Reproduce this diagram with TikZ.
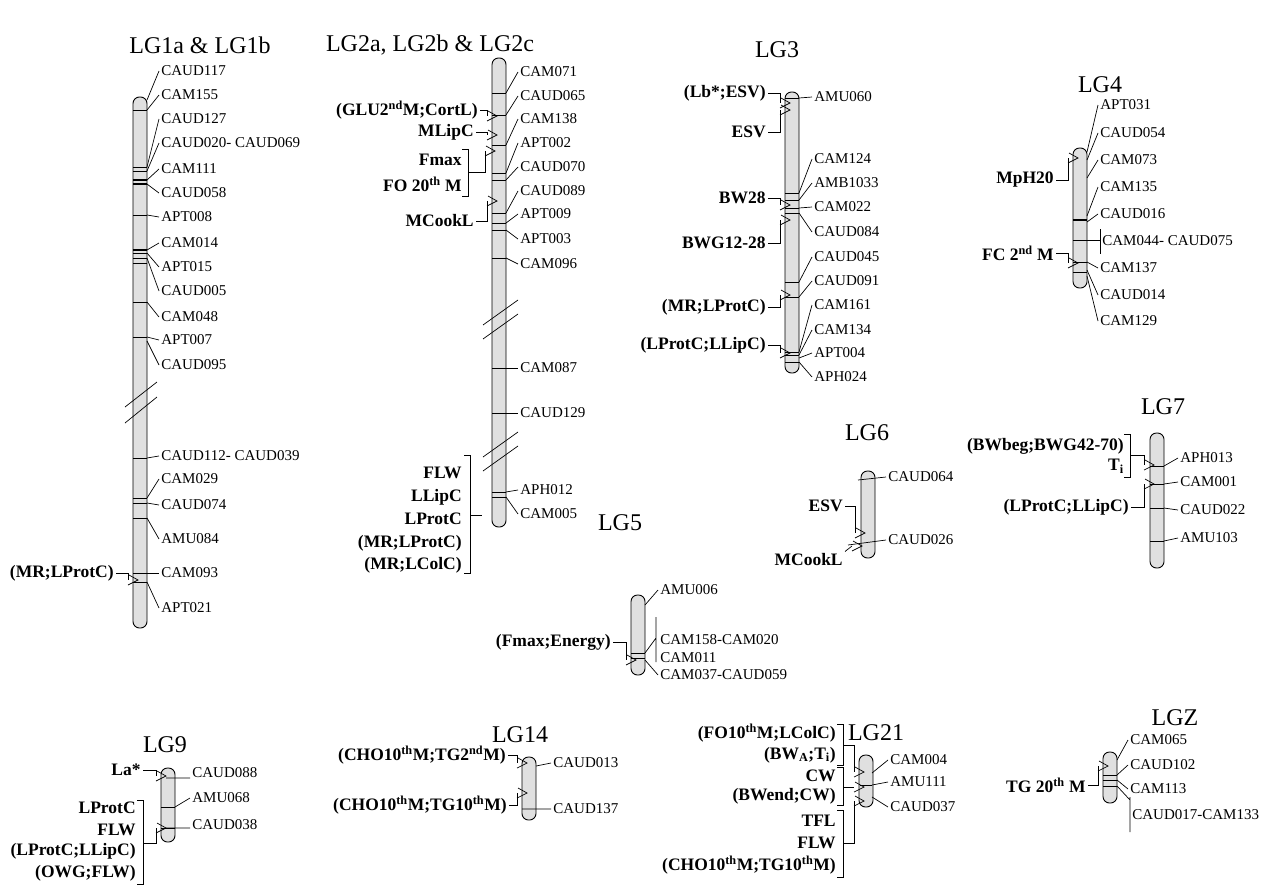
\documentclass[tikz,border=0pt]{standalone}
\usepackage{fontspec}
\setmainfont{Liberation Serif}
\definecolor{chrgray}{RGB}{224,224,224}
\newcommand{\chrom}[3]{\draw[chr](#1-7,#2)rectangle(#1+7,#3);}
\newcommand{\qarrow}[1]{\draw(#1)++(1,-5)--++(9,5)--++(-10,5);}
\newcommand{\qbrack}[3]{\draw(#1-6,#2)--(#1,#2)--(#1,#3)--(#1-6,#3);}
\begin{document}
\begin{tikzpicture}[x=1pt,y=-1pt,line width=.7pt,
	chr/.style={fill=chrgray,rounded corners=6.5pt,line width=.9pt},
	mk/.style={anchor=west,inner sep=2pt,font=\fontsize{15}{17}\selectfont},
	qt/.style={anchor=east,inner sep=2pt,font=\fontsize{17.5}{19}\selectfont\bfseries},
	ttl/.style={font=\fontsize{24}{28}\selectfont}]
	\useasboundingbox(0,0)rectangle(1266,884);
	% LG1
	\node[ttl](t1)at(200,45){LG1a \& LG1b};
	\chrom{140}{97}{628}
	\foreach \b in {110,167,171,215,253,258,263,302,337,458,498,503,518,573,582} \draw(133,\b)--(147,\b);
	\foreach \b in {180,184,250} \draw[line width=1.5pt](133,\b)--(147,\b);
	\foreach \b/\l/\t [count=\i] in {100/71/CAUD117,110/95/CAM155,167/119/CAUD127,171/143/CAUD020- CAUD069,
		180/169/CAM111,184/193/CAUD058,215/217/APT008,250/243/CAM014,253/267/APT015,258/291/CAUD005,
		302/317/CAM048,337/340/APT007,341/365/CAUD095,458/456/CAUD112- CAUD039,498/479/CAM029,
		503/505/CAUD074,518/539/AMU084,573/573/CAM093,582/608/APT021}
		{\node[mk](lga\i)at(159,\l){\t}; \draw(147,\b)--(lga\i.west);}
	\draw(125,407)--(157,382) (125,423)--(157,397);
	\node[qt](q1)at(116,573){(MR;LProtC)};
	\coordinate(a1)at(128,580);
	\draw(q1.east)-|(a1); \qarrow{a1}
	% LG2
	\node[ttl](t2)at(430,45){LG2a, LG2b \& LG2c};
	\chrom{499}{58}{527}
	\foreach \b in {93,115,145,173,180,213,223,230,258,368,413,492,497} \draw(492,\b)--(506,\b);
	\foreach \b/\l/\t [count=\i] in {93/72/CAM071,115/96/CAUD065,145/119/CAM138,173/143/APT002,
		180/167/CAUD070,213/191/CAUD089,223/214/APT009,230/239/APT003,258/264/CAM096,
		368/368/CAM087,413/413/CAUD129,492/490/APH012,497/514/CAM005}
		{\node[mk](lgb\i)at(518,\l){\t}; \draw(506,\b)--(lgb\i.west);}
	\draw(483,325)--(518,300) (483,339)--(518,314) (483,457)--(518,432) (483,471)--(518,446);
	\node[qt](q2a)at(480,110){(GLU2\textsuperscript{nd}M;CortL)};
	\node[qt](q2b)at(476,132){MLipC};
	\node[qt](q2c)at(464,160){Fmax};
	\node[qt](q2d)at(464,184){FO 20\textsuperscript{th} M};
	\node[qt](q2e)at(476,221){MCookL};
	\coordinate(a2a)at(487,116); \coordinate(a2b)at(487,135);
	\coordinate(a2c)at(485,151); \coordinate(a2e)at(487,201);
	\draw(q2a.east)-|(a2a); \qarrow{a2a}
	\draw(q2b.east)-|(a2b); \qarrow{a2b}
	\qbrack{468}{149}{196} \draw(468,172)-|(a2c); \qarrow{a2c}
	\draw(q2e.east)-|(a2e); \qarrow{a2e}
	\foreach \y/\t [count=\i] in {473/FLW,497/LLipC,519/LProtC,543/(MR;LProtC),565/(MR;LColC)}
		\node[qt](q2f\i)at(464,\y){\t};
	\qbrack{470}{455}{573} \draw(470,515)--(482,515);
	% LG3
	\node[ttl](t3)at(777,50){LG3};
	\chrom{792}{92}{373}
	\foreach \b in {98,193,200,208,213,282,297,352,355,362} \draw(785,\b)--(799,\b);
	\foreach \b/\l/\t [count=\i] in {98/97/AMU060,193/159/CAM124,200/183/AMB1033,208/207/CAM022,
		213/232/CAUD084,282/257/CAUD045,297/281/CAUD091,352/305/CAM161,355/330/CAM134,
		358/353/APT004,362/377/APH024}
		{\node[mk](lgc\i)at(812,\l){\t}; \draw(799,\b)--(lgc\i.west);}
	\foreach \y/\ay/\t [count=\i] in {93/103/(Lb*;ESV),132/110/ESV,198/205/BW28,243/220/BWG12-28,
		307/295/(MR;LProtC),345/353/(LProtC;LLipC)}
		{\node[qt](q3\i)at(768,\y){\t}; \coordinate(a3\i)at(780,\ay);
		\draw(q3\i.east)-|(a3\i); \qarrow{a3\i}}
	% LG4
	\node[ttl](t4)at(1100,85){LG4};
	\chrom{1080}{148}{288}
	\foreach \b in {240,262,272} \draw(1073,\b)--(1087,\b);
	\draw[line width=1.5pt](1073,220)--(1087,220);
	\foreach \b/\l/\t [count=\i] in {152/105/APT031,160/133/CAUD054,178/160/CAM073,216/187/CAM135,
		222/214/CAUD016,262/268/CAM137,270/295/CAUD014,276/321/CAM129}
		{\node[mk](lgd\i)at(1098,\l){\t}; \draw(1087,\b)--(lgd\i.west);}
	\node[mk](lgd9)at(1100,241){CAM044- CAUD075};
	\draw(1087,240)--(1100,240) (1100,229)--(1100,254);
	\node[qt](q4a)at(1056,180){MpH20};
	\node[qt](q4b)at(1056,253){FC 2\textsuperscript{nd} M};
	\coordinate(a4a)at(1068,158); \coordinate(a4b)at(1068,263);
	\draw(q4a.east)-|(a4a); \qarrow{a4a}
	\draw(q4b.east)-|(a4b); \qarrow{a4b}
	% LG5
	\node[ttl](t5)at(620,523){LG5};
	\chrom{638}{595}{675}
	\foreach \b in {653,658} \draw(631,\b)--(645,\b);
	\node[mk](lge1)at(658,590){AMU006};
	\node[mk](lge2)at(658,640){CAM158-CAM020};
	\node[mk](lge3)at(658,658){CAM011};
	\node[mk](lge4)at(658,675){CAM037-CAUD059};
	\draw(645,605)--(lge1.west) (645,653)--(656,638) (656,617)--(656,662) (645,660)--(lge4.west);
	\node[qt](q5)at(613,642){(Fmax;Energy)};
	\coordinate(a5)at(626,660);
	\draw(q5.east)-|(a5); \qarrow{a5}
	% LG6
	\node[ttl](t6)at(867,433){LG6};
	\chrom{868}{471}{558}
	\node[mk](lgf1)at(886,477){CAUD064};
	\node[mk](lgf2)at(886,540){CAUD026};
	\draw(858,480)--(lgf1.west) (848,545)--(lgf2.west);
	\node[qt](q6a)at(845,506){ESV};
	\node[qt](q6b)at(845,560){MCookL};
	\coordinate(a6a)at(855,533); \coordinate(a6b)at(852,546);
	\draw(q6a.east)-|(a6a); \qarrow{a6a}
	\draw(q6b.north east)--(a6b); \qarrow{a6b}
	% LG7
	\node[ttl](t7)at(1163,407){LG7};
	\chrom{1157}{433}{568}
	\foreach \b in {466,484,508,541} \draw(1150,\b)--(1164,\b);
	\foreach \b/\l/\t [count=\i] in {466/458/APH013,484/482/CAM001,508/510/CAUD022,541/538/AMU103}
		{\node[mk](lgg\i)at(1178,\l){\t}; \draw(1164,\b)--(lgg\i.west);}
	\node[qt](q7a)at(1126,446){(BWbeg;BWG42-70)};
	\node[qt](q7b)at(1126,466){T\textsubscript{i}};
	\node[qt](q7c)at(1131,507){(LProtC;LLipC)};
	\coordinate(a7a)at(1144,465); \coordinate(a7b)at(1144,484);
	\qbrack{1130}{434}{477} \draw(1130,455)-|(a7a); \qarrow{a7a}
	\draw(q7c.east)-|(a7b); \qarrow{a7b}
	% LG9
	\node[ttl](t9)at(165,745){LG9};
	\chrom{168}{768}{842}
	\foreach \b in {807,828} \draw(161,\b)--(175,\b);
	\node[mk](lgh1)at(190,773){CAUD088};
	\node[mk](lgh2)at(190,798){AMU068};
	\node[mk](lgh3)at(190,825){CAUD038};
	\draw(166,778)--(190,778) (175,807)--(lgh2.west) (166,828)--(190,828);
	\node[qt](q9a)at(143,770){La*};
	\coordinate(a9a)at(156,776);
	\draw(q9a.east)-|(a9a); \qarrow{a9a}
	\foreach \y/\t [count=\i] in {808/LProtC,830/FLW,851/(LProtC;LLipC),873/(OWG;FLW)}
		\node[qt](q9b\i)at(138,\y){\t};
	\coordinate(a9b)at(156,828);
	\qbrack{143}{800}{884} \draw(143,843)-|(a9b); \qarrow{a9b}
	% LG14
	\node[ttl](t14)at(520,735){LG14};
	\chrom{529}{757}{820}
	\node[mk](lgi1)at(551,763){CAUD013};
	\node[mk](lgi2)at(551,809){CAUD137};
	\draw(536,766)--(lgi1.west) (522,809)--(lgi2.west);
	\node[qt](q14a)at(508,755){(CHO10\textsuperscript{th}M;TG2\textsuperscript{nd}M)};
	\node[qt](q14b)at(509,805){(CHO10\textsuperscript{th}M;TG10\textsuperscript{th}M)};
	\coordinate(a14a)at(517,763); \coordinate(a14b)at(517,793);
	\draw(q14a.east)-|(a14a); \qarrow{a14a}
	\draw(q14b.east)-|(a14b); \qarrow{a14b}
	% LG21
	\node[ttl](t21)at(876,733){LG21};
	\chrom{866}{755}{807}
	\draw(860,785)--(872,785);
	\foreach \b/\l/\t [count=\i] in {773/760/CAM004,785/782/AMU111,797/807/CAUD037}
		{\node[mk](lgj\i)at(888,\l){\t}; \draw(872,\b)--(lgj\i.west);}
	\foreach \y/\t [count=\i] in {733/(FO10\textsuperscript{th}M;LColC),755/(BW\textsubscript{A};T\textsubscript{i}),
		776/CW,796/(BWend;CW),821/TFL,843/FLW,865/(CHO10\textsuperscript{th}M;TG10\textsuperscript{th}M)}
		\node[qt](q21\i)at(838,\y){\t};
	\coordinate(a21a)at(854,772); \coordinate(a21b)at(854,787); \coordinate(a21c)at(854,801);
	\qbrack{843}{724}{765} \draw(843,745)-|(a21a); \qarrow{a21a}
	\qbrack{843}{767}{805} \draw(843,787)--(a21b); \qarrow{a21b}
	\qbrack{843}{810}{877} \draw(843,843)-|(a21c); \qarrow{a21c}
	% LGZ
	\node[ttl](tz)at(1175,718){LGZ};
	\chrom{1110}{752}{803}
	\foreach \b in {775,780,786} \draw(1103,\b)--(1117,\b);
	\foreach \b/\l/\t [count=\i] in {760/740/CAM065,775/765/CAUD102,780/789/CAM113}
		{\node[mk](lgk\i)at(1128,\l){\t}; \draw(1117,\b)--(lgk\i.west);}
	\node[mk](lgk4)at(1130,815){CAUD017-CAM133};
	\draw(1117,786)--(1130,800) (1130,797)--(1130,832);
	\node[qt](qz)at(1088,785){TG 20\textsuperscript{th} M};
	\coordinate(az)at(1098,766);
	\draw(qz.east)-|(az); \qarrow{az}
\end{tikzpicture}
\end{document}
